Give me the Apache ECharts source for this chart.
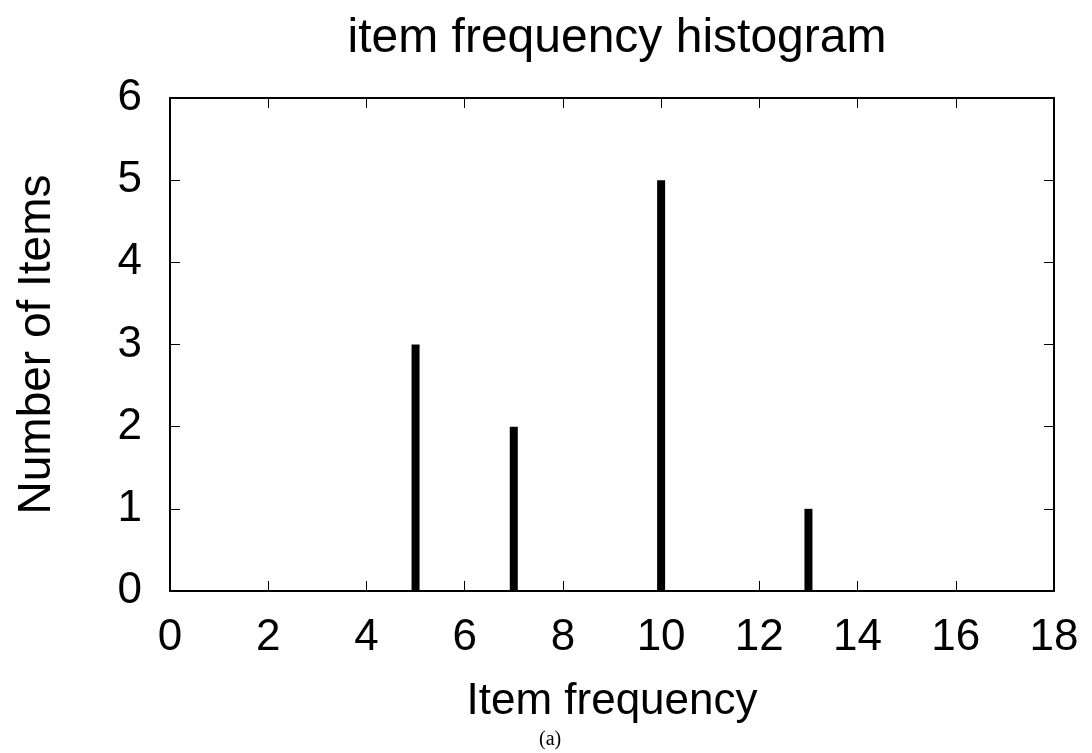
<!DOCTYPE html>
<html>
<head>
<meta charset="utf-8">
<script src="https://cdn.jsdelivr.net/npm/echarts@6/dist/echarts.min.js"></script>
<style>html,body{margin:0;padding:0;background:#fff;}#c{width:1092px;height:753px;}</style>
</head>
<body>
<div id="c"></div>
<script>
const frequencies = [5, 7, 10, 13];
const itemCounts = [3, 2, 5, 1];
const xTicks = [0, 2, 4, 6, 8, 10, 12, 14, 16, 18];
const yTicks = [0, 1, 2, 3, 4, 5, 6];
const titleText = 'item frequency histogram';
const xName = 'Item frequency';
const yName = 'Number of Items';
const caption = '(a)';

const FONT = '"Liberation Sans", Arial, sans-serif';
const chart = echarts.init(document.getElementById('c'), null, {renderer: 'canvas'});
const gridL = 170, gridR = 38, gridT = 98, gridB = 162;
const plotCx = gridL + (1092 - gridL - gridR) / 2;

const tick = {show: true, inside: true, length: 10, lineStyle: {color: '#000', width: 1}};
const line = {show: true, onZero: false, lineStyle: {color: '#000', width: 2}};

chart.setOption({
  animation: false,
  backgroundColor: '#fff',
  title: {
    text: titleText, left: plotCx, textAlign: 'center', top: 10,
    textStyle: {fontFamily: FONT, fontSize: 48, fontWeight: 'normal', color: '#000'}
  },
  grid: {left: gridL, right: gridR, top: gridT, bottom: gridB, containLabel: false},
  xAxis: [{
    type: 'value', min: xTicks[0], max: xTicks[xTicks.length - 1], interval: 2,
    name: xName, nameLocation: 'middle', nameGap: 89,
    nameTextStyle: {fontFamily: FONT, fontSize: 44, color: '#000'},
    axisLine: line, axisTick: tick, splitLine: {show: false},
    axisLabel: {fontFamily: FONT, fontSize: 44, color: '#000', margin: 25}
  }, {
    type: 'value', position: 'top', min: xTicks[0], max: xTicks[xTicks.length - 1], interval: 2,
    axisLine: line, axisTick: tick, splitLine: {show: false}, axisLabel: {show: false}
  }],
  yAxis: [{
    type: 'value', min: yTicks[0], max: yTicks[yTicks.length - 1], interval: 1,
    name: yName, nameLocation: 'middle', nameGap: 110, nameRotate: 90,
    nameTextStyle: {fontFamily: FONT, fontSize: 46, color: '#000'},
    axisLine: line, axisTick: tick, splitLine: {show: false},
    axisLabel: {fontFamily: FONT, fontSize: 44, color: '#000', margin: 28}
  }, {
    type: 'value', position: 'right', min: yTicks[0], max: yTicks[yTicks.length - 1], interval: 1,
    axisLine: line, axisTick: tick, splitLine: {show: false}, axisLabel: {show: false}
  }],
  series: [{
    type: 'bar', xAxisIndex: 0, yAxisIndex: 0, barWidth: 8,
    itemStyle: {color: '#000'},
    data: frequencies.map((f, i) => [f, itemCounts[i]])
  }],
  graphic: [{
    type: 'text', left: 539, top: 730,
    style: {text: caption, fontFamily: '"Liberation Serif", "Times New Roman", serif', fontSize: 20, fill: '#000'}
  }]
});
</script>
</body>
</html>
